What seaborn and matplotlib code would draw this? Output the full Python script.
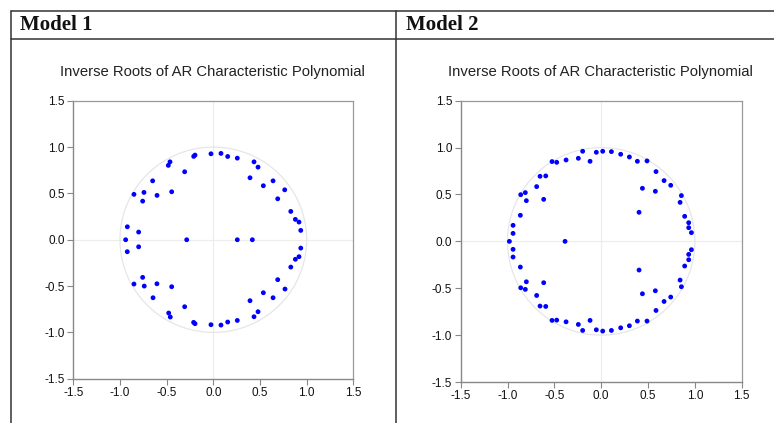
import numpy as np
import pandas as pd
import matplotlib
matplotlib.use("Agg")
import matplotlib.pyplot as plt
import seaborn as sns
from matplotlib.lines import Line2D

m1_re = [-0.025, 0.082, 0.154, 0.257, -0.196, -0.21,
         -0.464, -0.482, -0.307, -0.65, -0.85, -0.743, -0.603, -0.446, -0.757, -0.921, -0.8,
         0.436, 0.479, 0.393, 0.536, 0.64, 0.765, 0.69, 0.83, 0.879, 0.918, 0.937,
         -0.939, -0.285, 0.257, 0.418,
         -0.8, -0.922, -0.757, -0.85, -0.74, -0.604, -0.446, -0.646, -0.307, -0.478, -0.461,
         -0.025, 0.082, 0.154, 0.257, -0.211, -0.196,
         0.937, 0.918, 0.879, 0.83, 0.69, 0.768, 0.536, 0.64, 0.393, 0.479, 0.436]
m1_im = [0.928, 0.932, 0.899, 0.881, 0.914, 0.90,
         0.841, 0.803, 0.734, 0.636, 0.49, 0.511, 0.479, 0.518, 0.417, 0.14, 0.083,
         0.841, 0.784, 0.669, 0.583, 0.636, 0.539, 0.442, 0.306, 0.22, 0.191, 0.101,
         0.0, 0.0, 0.0, 0.0,
         -0.076, -0.129, -0.406, -0.478, -0.5, -0.475, -0.507, -0.626, -0.723, -0.791, -0.834,
         -0.917, -0.921, -0.888, -0.871, -0.892, -0.906,
         -0.09, -0.183, -0.211, -0.295, -0.431, -0.532, -0.572, -0.626, -0.658, -0.777, -0.831]

m2_re = [0.016, 0.109, -0.052, -0.198, 0.208, 0.301, -0.244, -0.375, -0.119, -0.525, -0.475,
         0.386, 0.489, 0.585, 0.671, 0.742, -0.653, -0.592, -0.689, -0.859, -0.81, -0.799,
         -0.614, 0.44, 0.578, 0.856, 0.842, 0.404, -0.863, 0.891, -0.941, 0.934, 0.934,
         -0.941, 0.963, -0.98, -0.386,
         -0.941, -0.941, 0.963, 0.934, 0.934, 0.891, -0.863, 0.404, -0.799, -0.614, 0.842,
         -0.859, -0.81, 0.856, 0.44, 0.578, -0.689, 0.742, 0.671, -0.653, -0.592, 0.585,
         -0.525, -0.475, -0.375, -0.119, -0.244, -0.198, -0.052, 0.016, 0.109, 0.208, 0.301,
         0.386, 0.489]
m2_im = [0.961, 0.957, 0.95, 0.961, 0.929, 0.9, 0.886, 0.868, 0.854, 0.851, 0.843,
         0.854, 0.858, 0.744, 0.648, 0.598, 0.694, 0.698, 0.584, 0.498, 0.52, 0.434,
         0.448, 0.566, 0.534, 0.488, 0.416, 0.31, 0.278, 0.267, 0.171, 0.199, 0.146,
         0.085, 0.093, 0.0, 0.0,
         -0.085, -0.167, -0.089, -0.139, -0.196, -0.263, -0.274, -0.306, -0.431, -0.441, -0.413,
         -0.495, -0.512, -0.484, -0.559, -0.527, -0.577, -0.594, -0.641, -0.69, -0.694, -0.737,
         -0.843, -0.84, -0.858, -0.843, -0.886, -0.95, -0.943, -0.957, -0.95, -0.922, -0.9,
         -0.85, -0.85]

models = ["Model 1", "Model 2"]
title = "Inverse Roots of AR Characteristic Polynomial"
ticks = [-1.5, -1.0, -0.5, 0.0, 0.5, 1.0, 1.5]

sns.set_style("white")
plt.rcParams["font.family"] = ["Liberation Sans", "DejaVu Sans"]
plt.rcParams["axes.unicode_minus"] = False

fig = plt.figure(figsize=(7.74, 4.23), dpi=100)

axes_pos = [[0.0947, 0.1047, 0.3618, 0.657], [0.5952, 0.0969, 0.3631, 0.665]]
data = [(m1_re, m1_im), (m2_re, m2_im)]
title_x = [0.275, 0.776]

t = np.linspace(0, 2 * np.pi, 400)
for i, (re, im) in enumerate(data):
    ax = fig.add_axes(axes_pos[i])
    df = pd.DataFrame({"re": re, "im": im})
    ax.plot(np.cos(t), np.sin(t), color="#e6e6e6", lw=0.9, zorder=1)
    ax.axhline(0, color="#ececec", lw=0.8, zorder=0)
    ax.axvline(0, color="#ececec", lw=0.8, zorder=0)
    sns.scatterplot(data=df, x="re", y="im", ax=ax, color="#0000ff", s=12,
                    edgecolor="none", linewidth=0, zorder=3)
    ax.set_xlim(-1.5, 1.5)
    ax.set_ylim(-1.5, 1.5)
    ax.set_xticks(ticks)
    ax.set_yticks(ticks)
    ax.set_xticklabels([f"{v:.1f}" for v in ticks])
    ax.set_yticklabels([f"{v:.1f}" for v in ticks])
    ax.set_xlabel("")
    ax.set_ylabel("")
    ax.tick_params(axis="both", direction="out", length=4, width=0.8, color="#888888",
                   labelsize=8.5, labelcolor="#111111", pad=2,
                   left=True, bottom=True)
    for side in ["left", "bottom"]:
        ax.spines[side].set_color("#888888")
        ax.spines[side].set_linewidth(1.0)
    for side in ["top", "right"]:
        ax.spines[side].set_color("#999999")
        ax.spines[side].set_linewidth(0.9)
    fig.text(title_x[i], 1 - 72 / 423, title, ha="center", va="center",
             fontsize=10.7, color="#222222")

# table frame around the two panels
line_kw = dict(color="#333333", lw=1.1, transform=fig.transFigure)
fig.add_artist(Line2D([10.7 / 774, 1], [1 - 10.7 / 423] * 2, **line_kw))
fig.add_artist(Line2D([10.7 / 774, 1], [1 - 39 / 423] * 2, **line_kw))
fig.add_artist(Line2D([10.7 / 774] * 2, [0, 1 - 10.7 / 423], **line_kw))
fig.add_artist(Line2D([396 / 774] * 2, [0, 1 - 10.7 / 423], **line_kw))

header_x = [20 / 774, 406 / 774]
for i, name in enumerate(models):
    fig.text(header_x[i], 1 - 25 / 423, name, ha="left", va="center",
             fontsize=15, fontweight="bold", color="#111111",
             family=["Liberation Serif", "DejaVu Serif"])

fig.savefig("out.png", dpi=100)
